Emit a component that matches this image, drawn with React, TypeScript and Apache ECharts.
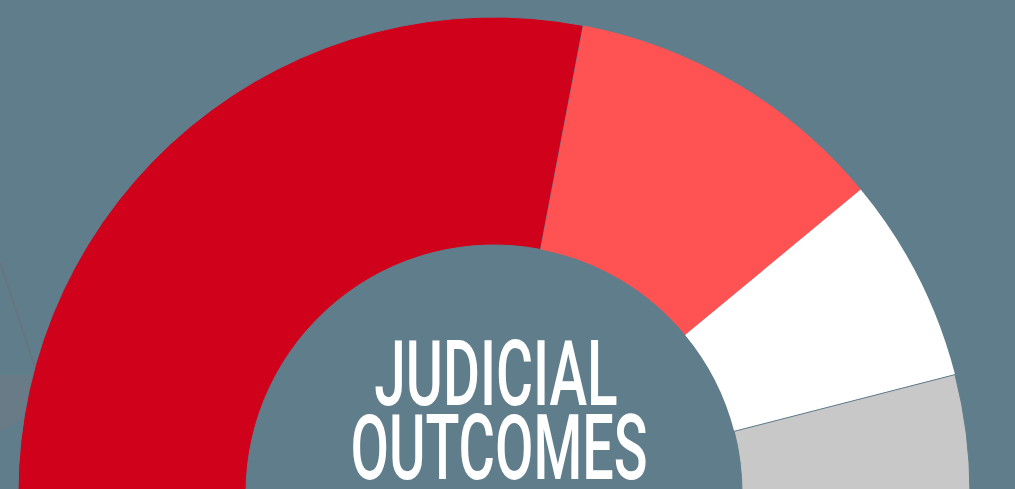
import React, { useEffect, useRef } from "react";
import * as echarts from "echarts";

const categories = ["Outcome A", "Outcome B", "Outcome C", "Outcome D"];
const values = [56, 22, 14, 8];
const colors = ["#D0021B", "#FF5252", "#FFFFFF", "#C8C8C8"];
const titleLines = ["JUDICIAL", "OUTCOMES"];

const BG = "#607D8B";
const TITLE_FONT = "500 90px Roboto";

export default function App() {
  const ref = useRef<HTMLDivElement>(null);
  useEffect(() => {
    document.body.style.margin = "0";
    const chart = echarts.init(ref.current!, null, { renderer: "svg" });
    const total = values.reduce((a, b) => a + b, 0);
    const data = values.map((v, i) => ({
      name: categories[i],
      value: v,
      itemStyle: {
        color: colors[i],
        borderColor: BG,
        borderWidth: i === 0 || i === 3 ? 1 : 0,
      },
    }));
    data.push({
      name: "hidden",
      value: total,
      itemStyle: { color: "rgba(0,0,0,0)", borderColor: BG, borderWidth: 0 },
    } as any);
    chart.setOption({
      animation: false,
      backgroundColor: BG,
      series: [
        {
          type: "pie",
          center: [494, 493],
          radius: [248, 476],
          startAngle: 180,
          clockwise: true,
          label: { show: false },
          labelLine: { show: false },
          emphasis: { disabled: true },
          silent: true,
          data,
        },
      ],
      graphic: [
        {
          type: "polygon",
          z: 0,
          shape: { points: [[0, 375], [60, 375], [60, 400], [0, 431]] },
          style: { fill: "rgba(120,120,130,0.35)" },
        },
        {
          type: "line",
          z: 0,
          shape: { x1: 0, y1: 262, x2: 36, y2: 370 },
          style: { stroke: "rgba(110,110,120,0.5)", lineWidth: 2 },
        },
        {
          type: "text",
          z: 100,
          x: 496,
          y: 374,
          scaleX: 0.63,
          style: {
            text: titleLines[0],
            fill: "#FFFFFF",
            font: TITLE_FONT,
            lineHeight: 62,
            textAlign: "center",
            textVerticalAlign: "middle",
          },
        },
        {
          type: "text",
          z: 100,
          x: 499,
          y: 448,
          scaleX: 0.62,
          style: {
            text: titleLines[1],
            fill: "#FFFFFF",
            font: TITLE_FONT,
            lineHeight: 62,
            textAlign: "center",
            textVerticalAlign: "middle",
          },
        },
      ],
    });
    return () => chart.dispose();
  }, []);
  return <div ref={ref} style={{ width: 1015, height: 489 }} />;
}
